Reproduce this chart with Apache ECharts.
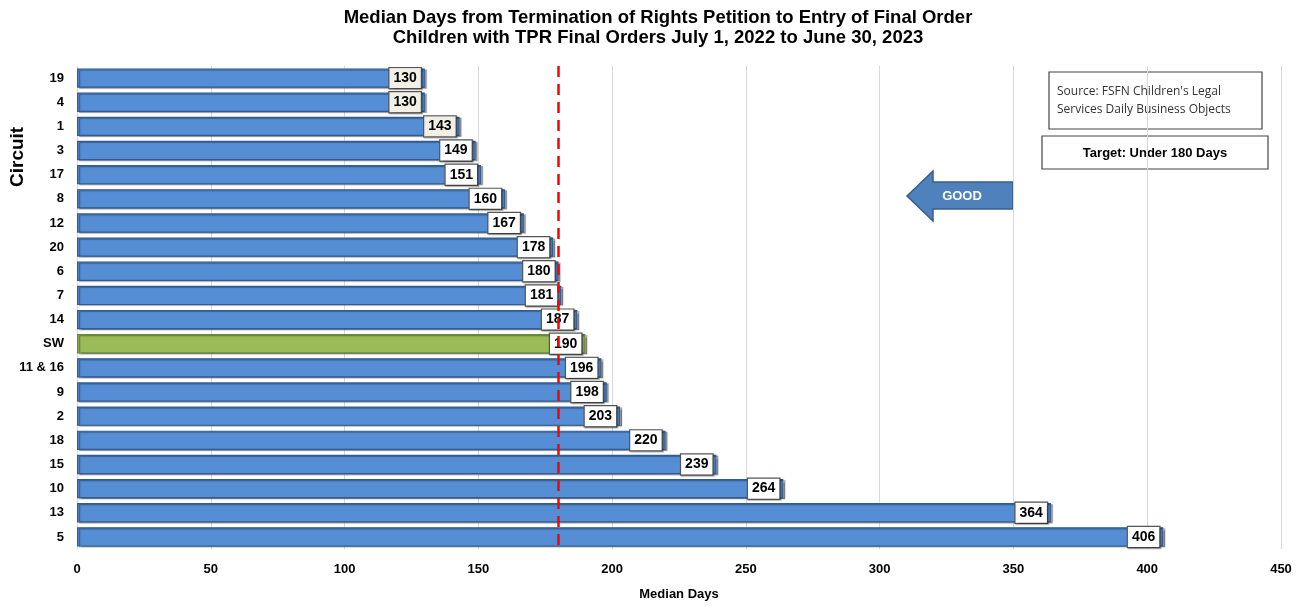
<!DOCTYPE html>
<html><head><meta charset="utf-8">
<script src="https://cdn.jsdelivr.net/npm/echarts@6/dist/echarts.min.js"></script>
<style>html,body{margin:0;padding:0;background:#fff}#c{width:1305px;height:606px}</style>
</head><body><div id="c"></div>
<script>
const circuits = ['19','4','1','3','17','8','12','20','6','7','14','SW','11 & 16','9','2','18','15','10','13','5'];
const medianDays = [130,130,143,149,151,160,167,178,180,181,187,190,196,198,203,220,239,264,364,406];
const targetDays = 180;
const xTicks = [0,50,100,150,200,250,300,350,400,450];

const chart = echarts.init(document.getElementById('c'));
const F = 'Liberation Sans, Arial, sans-serif';
const data = medianDays.map((v,i)=>({
  value: v,
  itemStyle: circuits[i]==='SW' ? {color:'#9bbb59', borderColor:'#6b8a35'} : undefined,
  label: i<3 ? {backgroundColor:'#f1efe6'} : undefined
}));
chart.setOption({
  animation:false,
  title:{
    text:'Median Days from Termination of Rights Petition to Entry of Final Order\nChildren with TPR Final Orders July 1, 2022 to June 30, 2023',
    left:653, top:3, textAlign:'center',
    textStyle:{fontFamily:F, fontWeight:'bold', fontSize:18.5, lineHeight:20, color:'#000'}
  },
  grid:{left:77, right:24, top:66, bottom:51},
  xAxis:{
    type:'value', min:0, max:450, interval:50,
    axisLine:{show:false}, axisTick:{show:false},
    splitLine:{show:true, lineStyle:{color:'#d9d9d9', width:1}},
    axisLabel:{fontFamily:F, fontWeight:'bold', fontSize:13, color:'#000', margin:14,
      formatter:(v)=> xTicks.includes(v) ? String(v) : ''},
    name:'Median Days', nameLocation:'middle', nameGap:39,
    nameTextStyle:{fontFamily:F, fontWeight:'bold', fontSize:13, color:'#000'}
  },
  yAxis:{
    type:'category', data:circuits, inverse:true,
    axisLine:{show:false}, axisTick:{show:false},
    axisLabel:{fontFamily:F, fontWeight:'bold', fontSize:13, color:'#000', margin:13}
  },
  series:[{
    type:'bar', data:data, barWidth:'80%',
    itemStyle:{color:'#558ed5', borderColor:'#2f5c94', borderWidth:1.2,
      shadowColor:'rgba(0,0,0,0.35)', shadowOffsetX:2, shadowOffsetY:1, shadowBlur:1},
    label:{show:true, position:'insideRight', distance:4,
      fontFamily:F, fontWeight:'bold', fontSize:14, color:'#000',
      backgroundColor:'#ffffff', borderColor:'#555', borderWidth:1.2,
      padding:[3,4,3,4], shadowColor:'rgba(0,0,0,0.3)', shadowOffsetX:1, shadowOffsetY:1, shadowBlur:1},
    z:3
  },{
    type:'line', data:[], z:20, silent:true,
    markLine:{
      silent:true, symbol:'none', label:{show:false},
      lineStyle:{color:'#ff0000', type:[11,7], width:2.5},
      data:[{xAxis:targetDays}]
    }
  }],
  graphic:[
    {type:'text', rotation:Math.PI/2, x:8, y:187,
      style:{text:'Circuit', font:'bold 19px '+F, fill:'#000'}},
    {type:'rect', shape:{x:1049, y:72, width:213, height:57}, style:{fill:'#fff', stroke:'#444', lineWidth:1.2}},
    {type:'text', style:{x:1057, y:83, text:"Source: FSFN Children's Legal\nServices Daily Business Objects", font:'12px "Open Sans", sans-serif', fill:'#333', lineHeight:18}},
    {type:'rect', shape:{x:1042, y:136, width:226, height:33}, style:{fill:'#fff', stroke:'#444', lineWidth:1.2}},
    {type:'text', style:{x:1155, y:153, text:'Target: Under 180 Days', font:'bold 13px '+F, fill:'#000', align:'center', verticalAlign:'middle'}},
    {type:'polygon', shape:{points:[[907,196],[933,171],[933,182],[1013,182],[1013,209],[933,209],[933,221]]},
      style:{fill:'#4f81bd', stroke:'#385d8a', lineWidth:1.5}},
    {type:'text', style:{x:962, y:196, text:'GOOD', font:'bold 13px '+F, fill:'#fff', align:'center', verticalAlign:'middle'}}
  ]
});
</script></body></html>
